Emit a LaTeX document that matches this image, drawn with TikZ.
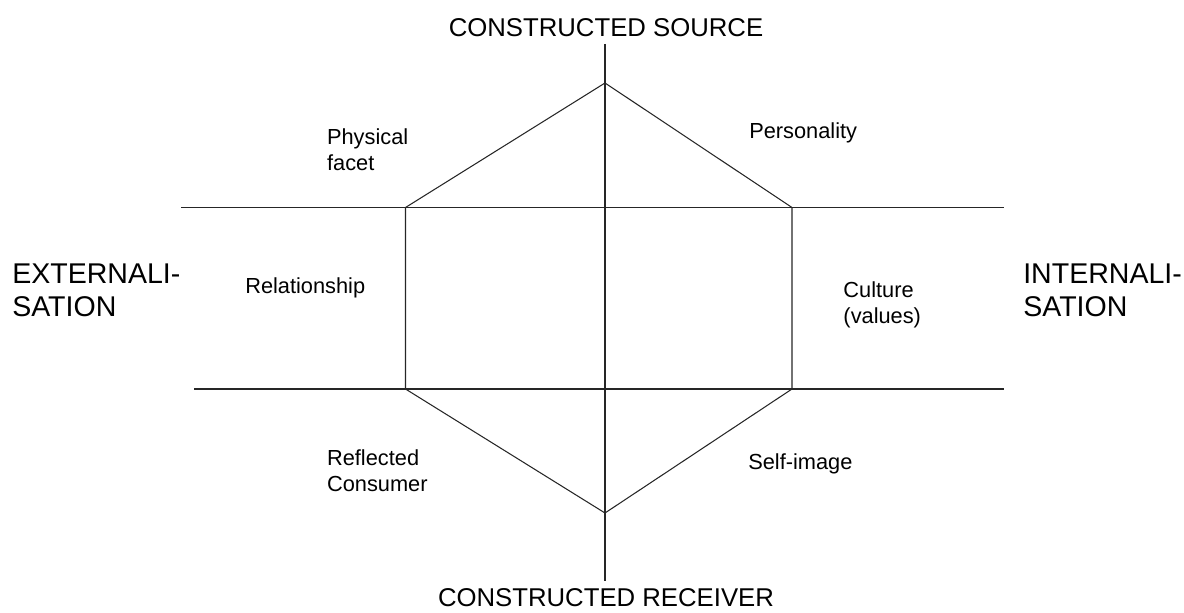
\documentclass[tikz,border=0pt]{standalone}
\usepackage{fontspec}
\setmainfont{Liberation Sans}
\tikzset{
	axis/.style={line width=1.1pt, black!85},
	prism/.style={line width=0.75pt, black!85},
	facet/.style={anchor=north west, inner sep=0pt, align=left, font=\fontsize{15.5pt}{18.5pt}\selectfont},
	pole/.style={inner sep=0pt, font=\fontsize{18.3pt}{22pt}\selectfont},
	side/.style={anchor=north west, inner sep=0pt, align=left, font=\fontsize{20.3pt}{23.1pt}\selectfont}
}
\begin{document}
\begin{tikzpicture}
		\useasboundingbox (0,0) rectangle (29.6,15.3);
		% corners of the prism
		\coordinate (top) at (15.125,13.225);
		\coordinate (upleft) at (10.1375,10.1125);
		\coordinate (upright) at (19.8,10.1125);
		\coordinate (lowleft) at (10.1375,5.575);
		\coordinate (lowright) at (19.8,5.575);
		\coordinate (bottom) at (15.125,2.475);
		% ends of the axes
		\coordinate (vtop) at (15.125,14.2);
		\coordinate (vbottom) at (15.125,0.775);
		\coordinate (hupleft) at (4.525,10.1125);
		\coordinate (hupright) at (25.1,10.1125);
		\coordinate (hlowleft) at (4.85,5.575);
		\coordinate (hlowright) at (25.1,5.575);
		% axes
		\draw[prism] (vtop) -- (vbottom); % vertical
		\draw[axis] (hupleft) -- (hupright); % upper
		\draw[axis] (hlowleft) -- (hlowright); % lower
		% hexagon
		\draw[prism] (top) -- (upright) -- (lowright) -- (bottom) -- (lowleft) -- (upleft) -- cycle;
		% poles
		\node[pole, anchor=base] (source) at (15.15,14.3825) {CONSTRUCTED SOURCE};
		\node[pole, anchor=base] (receiver) at (15.15,0.13) {CONSTRUCTED RECEIVER};
		\node[side] (extern) at (0.3,8.7) {EXTERNALI-\\SATION};
		\node[side] (intern) at (25.575,8.7) {INTERNALI-\\SATION};
		% facets
		\node[facet] (physical) at (8.17,12.09) {Physical\\facet};
		\node[facet] (personality) at (18.725,12.2425) {Personality};
		\node[facet] (relationship) at (6.125,8.3675) {Relationship};
		\node[facet] (culture) at (21.08,8.2575) {Culture\\(values)};
		\node[facet] (reflected) at (8.17,4.0675) {Reflected\\Consumer};
		\node[facet] (selfimage) at (18.7,3.975) {Self-image};
	\end{tikzpicture}
\end{document}
